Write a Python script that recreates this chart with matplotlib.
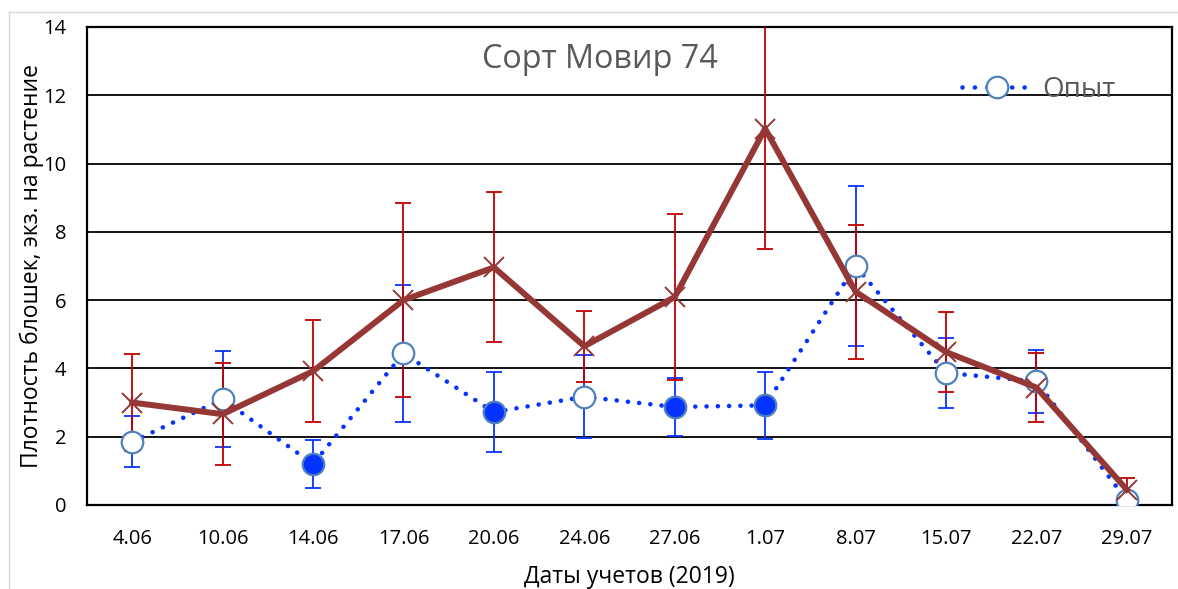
import numpy as np
import matplotlib
matplotlib.use('Agg')
import matplotlib.pyplot as plt
from matplotlib.lines import Line2D

plt.rcParams['font.family'] = ['Open Sans', 'DejaVu Sans']

# Даты учетов и плотность блошек (экз. на растение)
dates = ['4.06', '10.06', '14.06', '17.06', '20.06', '24.06',
         '27.06', '1.07', '8.07', '15.07', '22.07', '29.07']
opyt = [1.85, 3.10, 1.20, 4.44, 2.72, 3.17, 2.87, 2.92, 7.00, 3.87, 3.62, 0.14]
opyt_err = [0.75, 1.40, 0.69, 2.00, 1.18, 1.22, 0.85, 0.98, 2.34, 1.03, 0.92, 0.0]
kontrol = [3.00, 2.66, 3.92, 6.00, 6.96, 4.65, 6.09, 11.02, 6.25, 4.48, 3.44, 0.45]
kontrol_err = [1.42, 1.50, 1.50, 2.85, 2.20, 1.04, 2.43, 3.53, 1.96, 1.16, 1.01, 0.35]
# достоверные отличия от контроля
significant = [False, False, True, False, True, False, True, True, False, False, False, False]

BLUE = '#0433ff'
EDGE = '#4f81bd'
BROWN = '#953735'
RED = '#c00000'
GRAY = '#595959'

fig = plt.figure(figsize=(11.78, 5.89), dpi=100)
ax = fig.add_axes([87 / 1178, 84 / 589, 1085 / 1178, 478 / 589])

x = np.arange(len(dates))

# полосы погрешностей
ax.errorbar(x[:-1], opyt[:-1], yerr=opyt_err[:-1], fmt='none', ecolor=BLUE,
            elinewidth=1.3, capsize=5.5, capthick=1.3, zorder=2)
ax.errorbar(x, kontrol, yerr=kontrol_err, fmt='none', ecolor=RED,
            elinewidth=1.3, capsize=5.5, capthick=1.3, zorder=3)

# Опыт: точечная линия
ax.plot(x, opyt, color=BLUE, lw=3.3, linestyle=(0, (0.01, 2.45)),
        dash_capstyle='round', zorder=3.5)
for xi, yi, s in zip(x, opyt, significant):
    ax.plot(xi, yi, 'o', ms=15.5, mfc=BLUE if s else 'white',
            mec=EDGE, mew=1.6, zorder=4)

# Контроль
ax.plot(x, kontrol, color=BROWN, lw=4.3, marker='x', ms=15, mew=1.4,
        mec=BROWN, solid_joinstyle='miter', zorder=5)

ax.set_xlim(-0.5, len(dates) - 0.5)
ax.set_ylim(0, 14)
ax.set_yticks(np.arange(0, 15, 2))
ax.set_xticks(x)
ax.set_xticklabels(dates)
ax.tick_params(axis='both', length=0, labelsize=14.5, colors='black')
ax.tick_params(axis='y', pad=15)
ax.tick_params(axis='x', pad=17)
ax.grid(axis='y', color='black', lw=1.3)
ax.set_axisbelow(True)
for sp in ax.spines.values():
    sp.set_color('black')
    sp.set_linewidth(1.6)

handle = Line2D([], [], color=BLUE, lw=3.3, linestyle=(0, (0.01, 2.7)),
                dash_capstyle='round', marker='o', ms=15.5, mfc='white',
                mec=EDGE, mew=1.6)
fig.legend([handle], ['Опыт'], loc='center left',
           bbox_to_anchor=(962 / 1178, 1 - 90 / 589), frameon=False,
           fontsize=20, labelcolor=GRAY, handlelength=2.5, handletextpad=0.4,
           borderpad=0, borderaxespad=0)

fig.text(600 / 1178, 1 - 68 / 589, 'Сорт Мовир 74', ha='center',
         va='baseline', fontsize=23.3, color=GRAY)
fig.text(32 / 1178, 1 - 266 / 589, 'Плотность блошек, экз. на растение',
         rotation=90, ha='center', va='center', fontsize=16.5)
fig.text(629 / 1178, 1 - 577 / 589, 'Даты учетов (2019)', ha='center',
         va='center', fontsize=16.5)

# рамка области диаграммы
fig.add_artist(Line2D([9 / 1178, 1], [1 - 12 / 589] * 2, color='#d9d9d9', lw=1))
fig.add_artist(Line2D([9 / 1178] * 2, [0, 1 - 12 / 589], color='#d9d9d9', lw=1))

fig.savefig('out.png', dpi=100)
